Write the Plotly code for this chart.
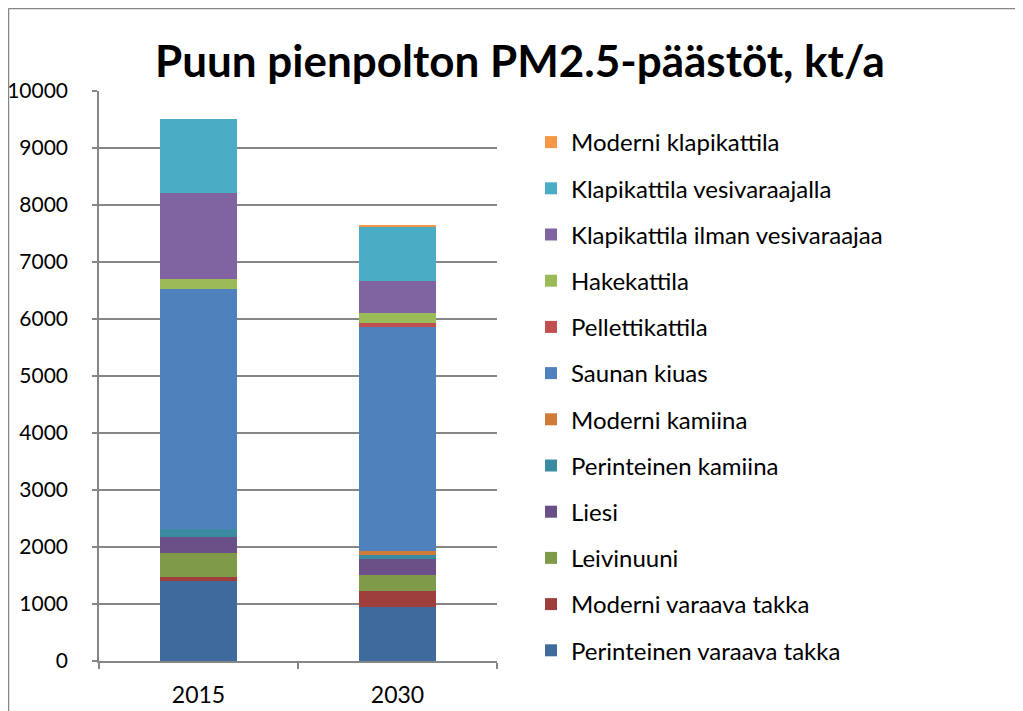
import plotly.graph_objects as go

years = ["2015", "2030"]
series_names = [
    "Perinteinen varaava takka",
    "Moderni varaava takka",
    "Leivinuuni",
    "Liesi",
    "Perinteinen kamiina",
    "Moderni kamiina",
    "Saunan kiuas",
    "Pellettikattila",
    "Hakekattila",
    "Klapikattila ilman vesivaraajaa",
    "Klapikattila vesivaraajalla",
    "Moderni klapikattila",
]
perinteinen_varaava_takka = [1400, 950]
moderni_varaava_takka = [75, 280]
leivinuuni = [420, 280]
liesi = [280, 280]
perinteinen_kamiina = [135, 70]
moderni_kamiina = [0, 70]
saunan_kiuas = [4215, 3930]
pellettikattila = [0, 70]
hakekattila = [175, 175]
klapikattila_ilman = [1510, 560]
klapikattila_vesivaraajalla = [1300, 950]
moderni_klapikattila = [0, 35]

series_values = [
    perinteinen_varaava_takka, moderni_varaava_takka, leivinuuni, liesi,
    perinteinen_kamiina, moderni_kamiina, saunan_kiuas, pellettikattila,
    hakekattila, klapikattila_ilman, klapikattila_vesivaraajalla, moderni_klapikattila,
]
colors = [
    "#3F6A9C", "#9E3F3D", "#7F9A48", "#6A5087", "#3A8BA1", "#D07B39",
    "#4F81BD", "#C0504D", "#9BBB59", "#8064A2", "#4BACC6", "#F79646",
]

FONT = "Lato"
L, R, T, B = 91, 534, 83, 58
W, H = 1023, 711
PW, PH = W - L - R, H - T - B

fig = go.Figure()
n = len(series_names)
for i, (name, vals, col) in enumerate(zip(series_names, series_values, colors)):
    fig.add_trace(go.Bar(
        x=years, y=vals, name=name, marker=dict(color=col, line=dict(width=0)),
        legendgroup=f"g{i}", legendrank=100 + (n - i),
    ))

fig.update_layout(
    width=W, height=H,
    barmode="stack", bargap=0.61,
    paper_bgcolor="white", plot_bgcolor="white",
    margin=dict(l=L, r=R, t=T, b=B, autoexpand=False),
    title=dict(text="<b>Puun pienpolton PM2.5-päästöt, kt/a</b>",
               x=512 / W, xref="container", xanchor="center",
               y=1 - 54 / H, yref="container", yanchor="middle",
               font=dict(family=FONT, size=44, color="black")),
    font=dict(family=FONT, color="black"),
    legend=dict(
        xref="container", yref="container",
        x=523 / W, y=1 - 112 / H, xanchor="left", yanchor="top",
        traceorder="grouped", tracegroupgap=12, maxheight=700,
        font=dict(family=FONT, size=24, color="black"),
        bgcolor="rgba(0,0,0,0)",
    ),
    showlegend=True,
)
fig.update_yaxes(
    range=[0, 10000], dtick=1000, tickformat="d", automargin=False,
    showgrid=True, gridcolor="#868686", gridwidth=1.5,
    showline=True, linecolor="#868686", linewidth=1.5,
    ticks="outside", ticklen=5, tickcolor="#868686", tickwidth=1.5,
    ticklabelstandoff=20,
    tickfont=dict(family=FONT, size=21, color="black"),
    zeroline=False,
)
fig.update_xaxes(
    automargin=False,
    showline=True, linecolor="#868686", linewidth=1.5,
    ticks="outside", ticklen=6, tickcolor="#868686", tickwidth=1.5,
    tickson="boundaries", ticklabelstandoff=13,
    tickfont=dict(family=FONT, size=23, color="black"),
)
# Outer chart frame (top and left edges)
fx = (0.5 - L) / PW
fy = (H - B - 0.5) / PH
fig.add_shape(type="line", xref="paper", yref="paper",
              x0=fx, x1=(W + 10 - L) / PW, y0=fy, y1=fy,
              line=dict(color="#868686", width=1.5))
fig.add_shape(type="line", xref="paper", yref="paper",
              x0=fx, x1=fx, y0=fy, y1=-B / PH - 0.05,
              line=dict(color="#868686", width=1.5))

fig.write_html("out.html")
